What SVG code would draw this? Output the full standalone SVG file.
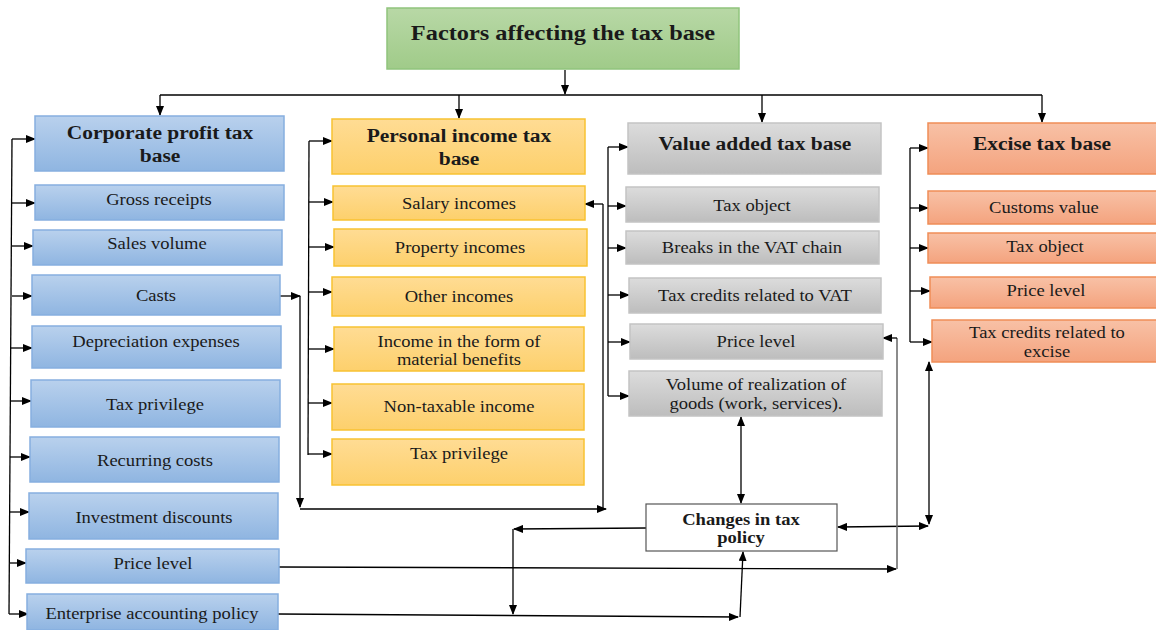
<svg xmlns="http://www.w3.org/2000/svg" width="1156" height="630" viewBox="0 0 1156 630">
<defs>
<linearGradient id="gBlue" x1="0" y1="0" x2="0" y2="1"><stop offset="0" stop-color="#b9d1ed"/><stop offset="1" stop-color="#8fb5e1"/></linearGradient>
<linearGradient id="gYel" x1="0" y1="0" x2="0" y2="1"><stop offset="0" stop-color="#ffdc94"/><stop offset="1" stop-color="#fdd06c"/></linearGradient>
<linearGradient id="gGray" x1="0" y1="0" x2="0" y2="1"><stop offset="0" stop-color="#dcdcdc"/><stop offset="1" stop-color="#bdbdbd"/></linearGradient>
<linearGradient id="gSal" x1="0" y1="0" x2="0" y2="1"><stop offset="0" stop-color="#f8c1a6"/><stop offset="1" stop-color="#f4a37e"/></linearGradient>
<linearGradient id="gGreen" x1="0" y1="0" x2="0" y2="1"><stop offset="0" stop-color="#b8d8a6"/><stop offset="1" stop-color="#a0cb89"/></linearGradient>
<marker id="ah" markerWidth="10" markerHeight="8" refX="9" refY="4" orient="auto" markerUnits="userSpaceOnUse"><path d="M0,0 L10,4 L0,8 Z" fill="#000"/></marker>
<marker id="ahs" markerWidth="10" markerHeight="8" refX="1" refY="4" orient="auto" markerUnits="userSpaceOnUse"><path d="M10,0 L0,4 L10,8 Z" fill="#000"/></marker>
<style>
.blue{fill:url(#gBlue);stroke:#86afdf;stroke-width:1.5}
.yel{fill:url(#gYel);stroke:#f8c232;stroke-width:1.5}
.gray{fill:url(#gGray);stroke:#c4c4c4;stroke-width:1.5}
.sal{fill:url(#gSal);stroke:#ef8d57;stroke-width:1.5}
.green{fill:url(#gGreen);stroke:#90c47c;stroke-width:1.5}
.white{fill:#fff;stroke:#555;stroke-width:1.2}
text{font-family:"Liberation Serif","Times New Roman",serif;fill:#1a1a1a;text-anchor:middle;transform-box:fill-box;transform-origin:center;transform:scaleX(1.16)}
.t{font-size:16px}
.h{font-size:18.5px;font-weight:bold}
.title{font-size:21px;font-weight:bold}
.c{font-size:16px;font-weight:bold}
.ln{fill:none;stroke:#000;stroke-width:1.3}
.gl{fill:none;stroke:#666;stroke-width:1.5}
</style>
</defs>

<g id="connectors">
<line class="ln" x1="565" y1="70" x2="565" y2="94" marker-end="url(#ah)"/>
<line class="ln" x1="160" y1="95" x2="1042" y2="95"/>
<line class="ln" x1="160" y1="95" x2="160" y2="115" marker-end="url(#ah)"/>
<line class="ln" x1="459" y1="95" x2="459" y2="118" marker-end="url(#ah)"/>
<line class="ln" x1="762" y1="95" x2="762" y2="122" marker-end="url(#ah)"/>
<line class="ln" x1="1042" y1="95" x2="1042" y2="122" marker-end="url(#ah)"/>
<path class="ln" d="M12,139 L9,614"/>
<line class="ln" x1="12" y1="139" x2="35" y2="139" marker-end="url(#ah)"/>
<line class="ln" x1="12" y1="203" x2="35" y2="203" marker-end="url(#ah)"/>
<line class="ln" x1="12" y1="246" x2="33" y2="246" marker-end="url(#ah)"/>
<line class="ln" x1="12" y1="296" x2="32" y2="296" marker-end="url(#ah)"/>
<line class="ln" x1="11" y1="348" x2="32" y2="348" marker-end="url(#ah)"/>
<line class="ln" x1="11" y1="401" x2="31" y2="401" marker-end="url(#ah)"/>
<line class="ln" x1="10" y1="457" x2="30" y2="457" marker-end="url(#ah)"/>
<line class="ln" x1="10" y1="512" x2="29" y2="512" marker-end="url(#ah)"/>
<line class="ln" x1="10" y1="563" x2="26" y2="563" marker-end="url(#ah)"/>
<line class="ln" x1="9" y1="614" x2="28" y2="614" marker-end="url(#ah)"/>
<line class="ln" x1="280" y1="296" x2="300" y2="296" marker-end="url(#ah)"/>
<line class="ln" x1="300" y1="296" x2="300" y2="507" marker-end="url(#ah)"/>
<line class="ln" x1="300" y1="509" x2="606" y2="509" marker-end="url(#ah)"/>
<line class="ln" x1="603" y1="509" x2="603" y2="204"/>
<line class="ln" x1="603" y1="204" x2="585" y2="204" marker-end="url(#ah)"/>
<line class="ln" x1="309" y1="141" x2="308" y2="455"/>
<line class="ln" x1="309" y1="141" x2="332" y2="141" marker-end="url(#ah)"/>
<line class="ln" x1="309" y1="202" x2="333" y2="202" marker-end="url(#ah)"/>
<line class="ln" x1="309" y1="247" x2="334" y2="247" marker-end="url(#ah)"/>
<line class="ln" x1="309" y1="292" x2="332" y2="292" marker-end="url(#ah)"/>
<line class="ln" x1="309" y1="349" x2="334" y2="349" marker-end="url(#ah)"/>
<line class="ln" x1="308" y1="403" x2="332" y2="403" marker-end="url(#ah)"/>
<line class="ln" x1="308" y1="454" x2="332" y2="454" marker-end="url(#ah)"/>
<line class="ln" x1="608" y1="147" x2="608" y2="396"/>
<line class="ln" x1="608" y1="147" x2="628" y2="147" marker-end="url(#ah)"/>
<line class="ln" x1="608" y1="206" x2="626" y2="206" marker-end="url(#ah)"/>
<line class="ln" x1="608" y1="248" x2="626" y2="248" marker-end="url(#ah)"/>
<line class="ln" x1="608" y1="295" x2="629" y2="295" marker-end="url(#ah)"/>
<line class="ln" x1="608" y1="342" x2="630" y2="342" marker-end="url(#ah)"/>
<line class="ln" x1="608" y1="396" x2="629" y2="396" marker-end="url(#ah)"/>
<line class="ln" x1="910" y1="148" x2="910" y2="342"/>
<line class="ln" x1="910" y1="148" x2="928" y2="148" marker-end="url(#ah)"/>
<line class="ln" x1="910" y1="208" x2="928" y2="208" marker-end="url(#ah)"/>
<line class="ln" x1="910" y1="248" x2="928" y2="248" marker-end="url(#ah)"/>
<line class="ln" x1="910" y1="291" x2="930" y2="291" marker-end="url(#ah)"/>
<line class="ln" x1="910" y1="342" x2="932" y2="342" marker-end="url(#ah)"/>
<line class="ln" x1="741" y1="417" x2="741" y2="503" marker-start="url(#ahs)" marker-end="url(#ah)"/>
<line class="ln" x1="838" y1="527" x2="928" y2="526" marker-start="url(#ahs)" marker-end="url(#ah)"/>
<line class="ln" x1="929" y1="362" x2="929" y2="524" marker-start="url(#ahs)" marker-end="url(#ah)"/>
<line class="ln" x1="646" y1="528" x2="514" y2="529" marker-end="url(#ah)"/>
<line class="ln" x1="513" y1="529" x2="513" y2="614" marker-end="url(#ah)"/>
<line class="ln" x1="279" y1="567" x2="896" y2="569" marker-end="url(#ah)"/>
<line class="gl" x1="897" y1="569" x2="897" y2="338"/>
<line class="ln" x1="897" y1="338" x2="883" y2="338" marker-end="url(#ah)"/>
<line class="ln" x1="278" y1="614" x2="738" y2="617" marker-end="url(#ah)"/>
<line class="ln" x1="740" y1="617" x2="743" y2="552" marker-end="url(#ah)"/>
</g>

<g id="title">
<rect class="green" x="387" y="8" width="352" height="61"/>
<text class="title" x="563" y="40">Factors affecting the tax base</text>
</g>

<g id="corporate">
<g id="corp-head"><rect class="blue" x="35" y="116" width="249" height="55"/><text class="h" x="160" y="139">Corporate profit tax</text><text class="h" x="160" y="162">base</text></g>
<g id="corp-gross"><rect class="blue" x="35" y="185" width="249" height="35"/><text class="t" x="159" y="205">Gross receipts</text></g>
<g id="corp-sales"><rect class="blue" x="33" y="230" width="249" height="35"/><text class="t" x="157" y="249">Sales volume</text></g>
<g id="corp-casts"><rect class="blue" x="32" y="275" width="248" height="40"/><text class="t" x="156" y="301">Casts</text></g>
<g id="corp-dep"><rect class="blue" x="32" y="326" width="249" height="42"/><text class="t" x="156" y="347">Depreciation expenses</text></g>
<g id="corp-priv"><rect class="blue" x="31" y="380" width="249" height="47"/><text class="t" x="155" y="410">Tax privilege</text></g>
<g id="corp-rec"><rect class="blue" x="30" y="437" width="249" height="45"/><text class="t" x="155" y="466">Recurring costs</text></g>
<g id="corp-inv"><rect class="blue" x="29" y="493" width="249" height="46"/><text class="t" x="154" y="523">Investment discounts</text></g>
<g id="corp-price"><rect class="blue" x="26" y="549" width="253" height="34"/><text class="t" x="153" y="569">Price level</text></g>
<g id="corp-acc"><rect class="blue" x="27" y="594" width="251" height="36"/><text class="t" x="152" y="619">Enterprise accounting policy</text></g>
</g>

<g id="personal">
<g id="pers-head"><rect class="yel" x="332" y="119" width="253" height="55"/><text class="h" x="459" y="142">Personal income tax</text><text class="h" x="459" y="165">base</text></g>
<g id="pers-salary"><rect class="yel" x="333" y="186" width="252" height="34"/><text class="t" x="459" y="209">Salary incomes</text></g>
<g id="pers-prop"><rect class="yel" x="334" y="229" width="253" height="37"/><text class="t" x="460" y="253">Property incomes</text></g>
<g id="pers-other"><rect class="yel" x="332" y="277" width="253" height="39"/><text class="t" x="459" y="302">Other incomes</text></g>
<g id="pers-mat"><rect class="yel" x="334" y="327" width="250" height="44"/><text class="t" x="459" y="347">Income in the form of</text><text class="t" x="459" y="365">material benefits</text></g>
<g id="pers-nontax"><rect class="yel" x="332" y="384" width="252" height="46"/><text class="t" x="459" y="412">Non-taxable income</text></g>
<g id="pers-priv"><rect class="yel" x="332" y="439" width="252" height="46"/><text class="t" x="459" y="459">Tax privilege</text></g>
</g>

<g id="vat">
<g id="vat-head"><rect class="gray" x="628" y="123" width="253" height="51"/><text class="h" x="755" y="150">Value added tax base</text></g>
<g id="vat-obj"><rect class="gray" x="626" y="187" width="253" height="35"/><text class="t" x="752" y="211">Tax object</text></g>
<g id="vat-breaks"><rect class="gray" x="626" y="231" width="253" height="33"/><text class="t" x="752" y="253">Breaks in the VAT chain</text></g>
<g id="vat-credits"><rect class="gray" x="629" y="278" width="252" height="35"/><text class="t" x="755" y="301">Tax credits related to VAT</text></g>
<g id="vat-price"><rect class="gray" x="630" y="324" width="253" height="35"/><text class="t" x="756" y="347">Price level</text></g>
<g id="vat-volume"><rect class="gray" x="629" y="371" width="253" height="45"/><text class="t" x="756" y="390">Volume of realization of</text><text class="t" x="756" y="409">goods (work, services).</text></g>
</g>

<g id="excise">
<g id="exc-head"><rect class="sal" x="928" y="123" width="232" height="51"/><text class="h" x="1042" y="150">Excise tax base</text></g>
<g id="exc-customs"><rect class="sal" x="928" y="191" width="232" height="33"/><text class="t" x="1044" y="213">Customs value</text></g>
<g id="exc-obj"><rect class="sal" x="928" y="233" width="232" height="30"/><text class="t" x="1045" y="252">Tax object</text></g>
<g id="exc-price"><rect class="sal" x="930" y="277" width="230" height="31"/><text class="t" x="1046" y="296">Price level</text></g>
<g id="exc-credits"><rect class="sal" x="932" y="320" width="228" height="42"/><text class="t" x="1047" y="338">Tax credits related to</text><text class="t" x="1047" y="357">excise</text></g>
</g>

<g id="changes">
<rect class="white" x="646" y="504" width="191" height="47"/>
<text class="c" x="741" y="525">Changes in tax</text>
<text class="c" x="741" y="543">policy</text>
</g>
</svg>
